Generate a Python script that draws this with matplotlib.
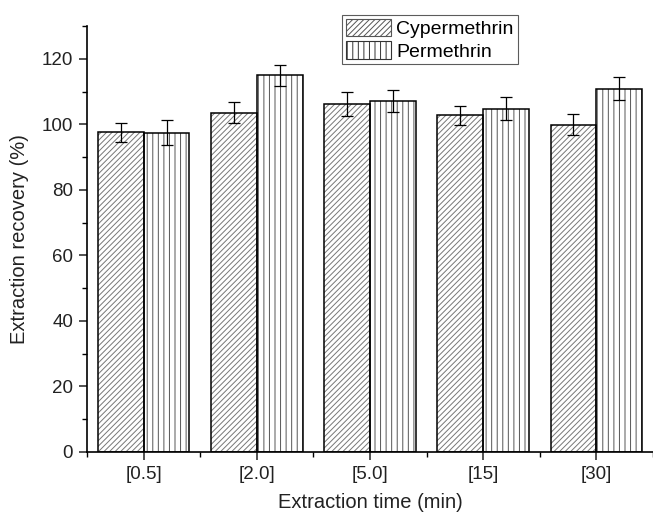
import numpy as np
import matplotlib
matplotlib.use('Agg')
import matplotlib.pyplot as plt
from matplotlib.ticker import MultipleLocator
from matplotlib.patches import Patch

plt.rcParams['font.family'] = ['Liberation Sans', 'DejaVu Sans']
plt.rcParams['hatch.linewidth'] = 0.7

# data
times = ['[0.5]', '[2.0]', '[5.0]', '[15]', '[30]']
cyper = [97.5, 103.5, 106.2, 102.7, 99.8]
cyper_err = [3.0, 3.2, 3.8, 3.0, 3.2]
perm = [97.4, 115.0, 107.2, 104.8, 110.9]
perm_err = [3.8, 3.2, 3.4, 3.5, 3.5]

x = np.arange(1, len(times) + 1)
w = 0.405

fig = plt.figure(figsize=(6.53, 5.16), dpi=100)
ax = fig.add_axes([87/653, 64/516, 1 - 87/653, 426/516])

ekw = dict(ecolor='black', elinewidth=0.9, capsize=4, capthick=0.9)

# hatch layer (grey), then black outline + error bars on top
ax.bar(x - w/2, cyper, w, color='white', edgecolor='#777777', linewidth=0, hatch='//////')
ax.bar(x + w/2, perm, w, color='white', edgecolor='#555555', linewidth=0, hatch='|||')
ax.bar(x - w/2, cyper, w, yerr=cyper_err, fill=False, edgecolor='black',
       linewidth=1.1, error_kw=ekw)
ax.bar(x + w/2, perm, w, yerr=perm_err, fill=False, edgecolor='black',
       linewidth=1.1, error_kw=ekw)

ax.set_xlim(0.5, 5.5)
ax.set_ylim(0, 130)
ax.set_xticks(x)
ax.set_xticklabels(times)
ax.xaxis.set_minor_locator(MultipleLocator(0.5))
ax.yaxis.set_major_locator(MultipleLocator(20))
ax.yaxis.set_minor_locator(MultipleLocator(10))

ax.spines['top'].set_visible(False)
ax.spines['right'].set_visible(False)
ax.spines['left'].set_linewidth(1.2)
ax.spines['bottom'].set_linewidth(1.2)
ax.tick_params(which='major', direction='out', length=6, width=1.1, labelsize=13.5,
               colors='#222222', pad=4)
ax.tick_params(which='minor', direction='out', length=3.5, width=1.0)

ax.set_xlabel('Extraction time (min)', fontsize=14.5, color='#222222', labelpad=7)
ax.set_ylabel('Extraction recovery (%)', fontsize=14.5, color='#222222', labelpad=9)

handles = [Patch(facecolor='white', edgecolor='#555555', hatch='//////', linewidth=0.8, label='Cypermethrin'),
           Patch(facecolor='white', edgecolor='#333333', hatch='|||', linewidth=0.8, label='Permethrin')]
leg = ax.legend(handles=handles, loc='upper left',
                bbox_to_anchor=(342/653, 1 - 15/516), bbox_transform=fig.transFigure,
                fontsize=14, frameon=True, fancybox=False, edgecolor='#333333',
                handlelength=2.3, handleheight=1.0, handletextpad=0.3,
                borderpad=0.2, labelspacing=0.15, borderaxespad=0)
leg.get_frame().set_linewidth(0.8)

fig.savefig('out.png', dpi=100)
